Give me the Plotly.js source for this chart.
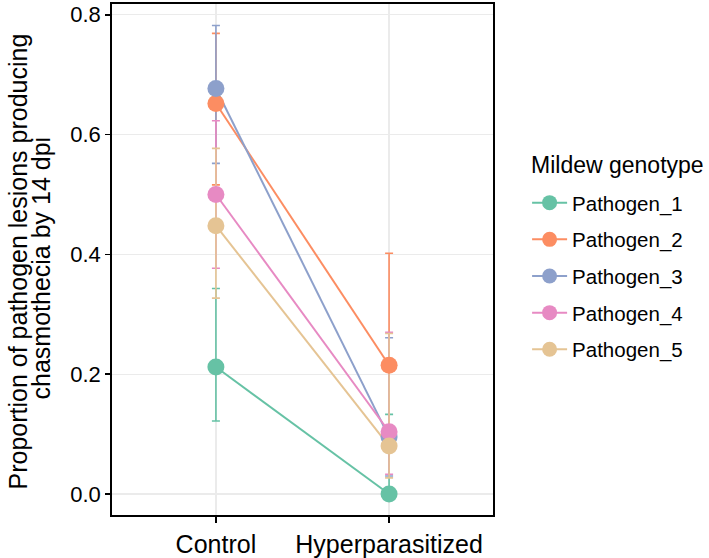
<!DOCTYPE html>
<html>
<head>
<meta charset="utf-8">
<script src="https://cdn.plot.ly/plotly-3.0.1.min.js"></script>
<style>html,body{margin:0;padding:0;background:#fff;}</style>
</head>
<body>
<div id="chart" style="width:709px;height:558px;"></div>
<script>
// Data
const treatments = ["Control", "Hyperparasitized"];
const genotypes = ["Pathogen_1", "Pathogen_2", "Pathogen_3", "Pathogen_4", "Pathogen_5"];
const colors = ["#66C2A5", "#FC8D62", "#8DA0CB", "#E78AC3", "#E5C494"];
const yTickVals = [0, 0.2, 0.4, 0.6, 0.8];
const yTickText = ["0.0", "0.2", "0.4", "0.6", "0.8"];
const yTitleLines = ["Proportion of pathogen lesions producing", "chasmothecia by 14 dpi"];
const legendTitle = "Mildew genotype";

const mean_P1 = [0.212, 0.000];
const upper_P1 = [0.343, 0.133];
const lower_P1 = [0.122, 0.000];

const mean_P2 = [0.652, 0.215];
const upper_P2 = [0.769, 0.402];
const lower_P2 = [0.516, 0.090];

const mean_P3 = [0.677, 0.095];
const upper_P3 = [0.782, 0.261];
const lower_P3 = [0.552, 0.030];

const mean_P4 = [0.500, 0.104];
const upper_P4 = [0.623, 0.270];
const lower_P4 = [0.377, 0.033];

const mean_P5 = [0.448, 0.080];
const upper_P5 = [0.577, 0.268];
const lower_P5 = [0.327, 0.027];

const means = [mean_P1, mean_P2, mean_P3, mean_P4, mean_P5];
const uppers = [upper_P1, upper_P2, upper_P3, upper_P4, upper_P5];
const lowers = [lower_P1, lower_P2, lower_P3, lower_P4, lower_P5];

const FONT = "Liberation Sans, Arial, Helvetica, sans-serif";
const traces = [];

// error bars + lines
genotypes.forEach((g, i) => {
  traces.push({
    type: "scatter", mode: "lines", x: treatments, y: means[i],
    line: {color: colors[i], width: 2},
    error_y: {
      type: "data", symmetric: false,
      array: uppers[i].map((u, k) => u - means[i][k]),
      arrayminus: lowers[i].map((l, k) => means[i][k] - l),
      color: colors[i], thickness: 1.6, width: 4
    },
    showlegend: false, hoverinfo: "skip", cliponaxis: false
  });
});
// points on top
genotypes.forEach((g, i) => {
  traces.push({
    type: "scatter", mode: "markers", x: treatments, y: means[i],
    marker: {color: colors[i], size: 17},
    showlegend: false, cliponaxis: false
  });
});
// legend entries
genotypes.forEach((g, i) => {
  traces.push({
    type: "scatter", mode: "lines+markers", x: [null], y: [null], name: g,
    legendgroup: g,
    line: {color: colors[i], width: 2},
    marker: {color: colors[i], size: 15}
  });
});

const layout = {
  width: 709, height: 558,
  margin: {l: 112, r: 216, t: 4, b: 43},
  paper_bgcolor: "#fff", plot_bgcolor: "#fff",
  font: {family: FONT, size: 20, color: "#000"},
  xaxis: {
    type: "category", range: [-0.6, 1.6],
    showgrid: true, gridcolor: "#EBEBEB", gridwidth: 1.2,
    ticks: "outside", ticklen: 6, tickwidth: 1.5, tickcolor: "#000",
    tickfont: {family: FONT, size: 25, color: "#000"},
    showline: true, linecolor: "#000", linewidth: 1.8, mirror: true,
    zeroline: false
  },
  yaxis: {
    range: [-0.035, 0.818],
    tickvals: yTickVals, ticktext: yTickText,
    showgrid: true, gridcolor: "#EBEBEB", gridwidth: 1.2,
    ticks: "outside", ticklen: 5, tickwidth: 1.5, tickcolor: "#000",
    tickfont: {family: FONT, size: 22, color: "#000"},
    showline: true, linecolor: "#000", linewidth: 1.8, mirror: true,
    zeroline: false
  },
  annotations: [
    {text: yTitleLines[0], textangle: -90, xref: "paper", yref: "paper",
     x: 0, y: 0.5, xanchor: "center", yanchor: "middle",
     xshift: -112 + 17, yshift: -2, showarrow: false,
     font: {family: FONT, size: 25, color: "#000"}},
    {text: yTitleLines[1], textangle: -90, xref: "paper", yref: "paper",
     x: 0, y: 0.5, xanchor: "center", yanchor: "middle",
     xshift: -112 + 40, yshift: -9, showarrow: false,
     font: {family: FONT, size: 25, color: "#000"}},
    {text: legendTitle, xref: "paper", yref: "paper",
     x: 1.0945, y: 0.685, xanchor: "left", yanchor: "middle", showarrow: false,
     font: {family: FONT, size: 23, color: "#000"}}
  ],
  legend: {
    x: 1.0895, xanchor: "left", y: 0.65, yanchor: "top",
    font: {family: FONT, size: 20.5, color: "#000"},
    itemwidth: 35,
    tracegroupgap: 7, bgcolor: "rgba(0,0,0,0)"
  }
};

Plotly.newPlot("chart", traces, layout, {displayModeBar: false, staticPlot: true});
</script>
</body>
</html>
